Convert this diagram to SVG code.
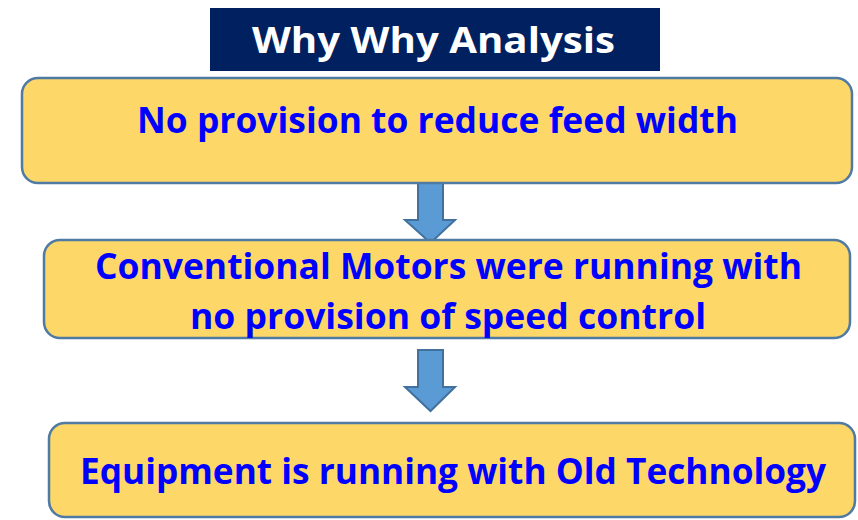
<svg xmlns="http://www.w3.org/2000/svg" width="858" height="520" viewBox="0 0 858 520">
<style>
.box{fill:#FDD767;stroke:#4E7AA3;stroke-width:2.5}
.t{font-family:"Open Sans","Liberation Sans",sans-serif;font-weight:bold;font-size:36px;fill:#0000FF;text-anchor:middle}
.arrow{fill:#5B9BD5;stroke:#41719C;stroke-width:2}
</style>
<rect width="858" height="520" fill="#FFFFFF"/>
<g id="title">
<rect x="210" y="8" width="450" height="63" fill="#002060"/>
<text x="433.5" y="53" font-family="Open Sans,Liberation Sans,sans-serif" font-weight="bold" font-size="35" fill="#FFFFFF" text-anchor="middle" textLength="363" lengthAdjust="spacingAndGlyphs">Why Why Analysis</text>
</g>
<g id="connectors">
<path class="arrow" d="M418,183 H443 V220 H455 L430.5,243 L405,220 H418 Z"/>
<path class="arrow" d="M418,350 H443 V387 H455 L430.5,411 L405,387 H418 Z"/>
</g>
<g id="node1">
<rect class="box" x="22" y="78" width="830" height="105" rx="16"/>
<text class="t" x="437.5" y="133" textLength="601" lengthAdjust="spacingAndGlyphs">No provision to reduce feed width</text>
</g>
<g id="node2">
<rect class="box" x="44" y="240" width="806" height="98" rx="16"/>
<text class="t" x="448.5" y="279" textLength="707" lengthAdjust="spacingAndGlyphs">Conventional Motors were running with</text>
<text class="t" x="448" y="329" textLength="516" lengthAdjust="spacingAndGlyphs">no provision of speed control</text>
</g>
<g id="node3">
<rect class="box" x="49" y="423" width="806" height="94" rx="16"/>
<text class="t" x="453" y="484" textLength="746" lengthAdjust="spacingAndGlyphs">Equipment is running with Old Technology</text>
</g>
</svg>
